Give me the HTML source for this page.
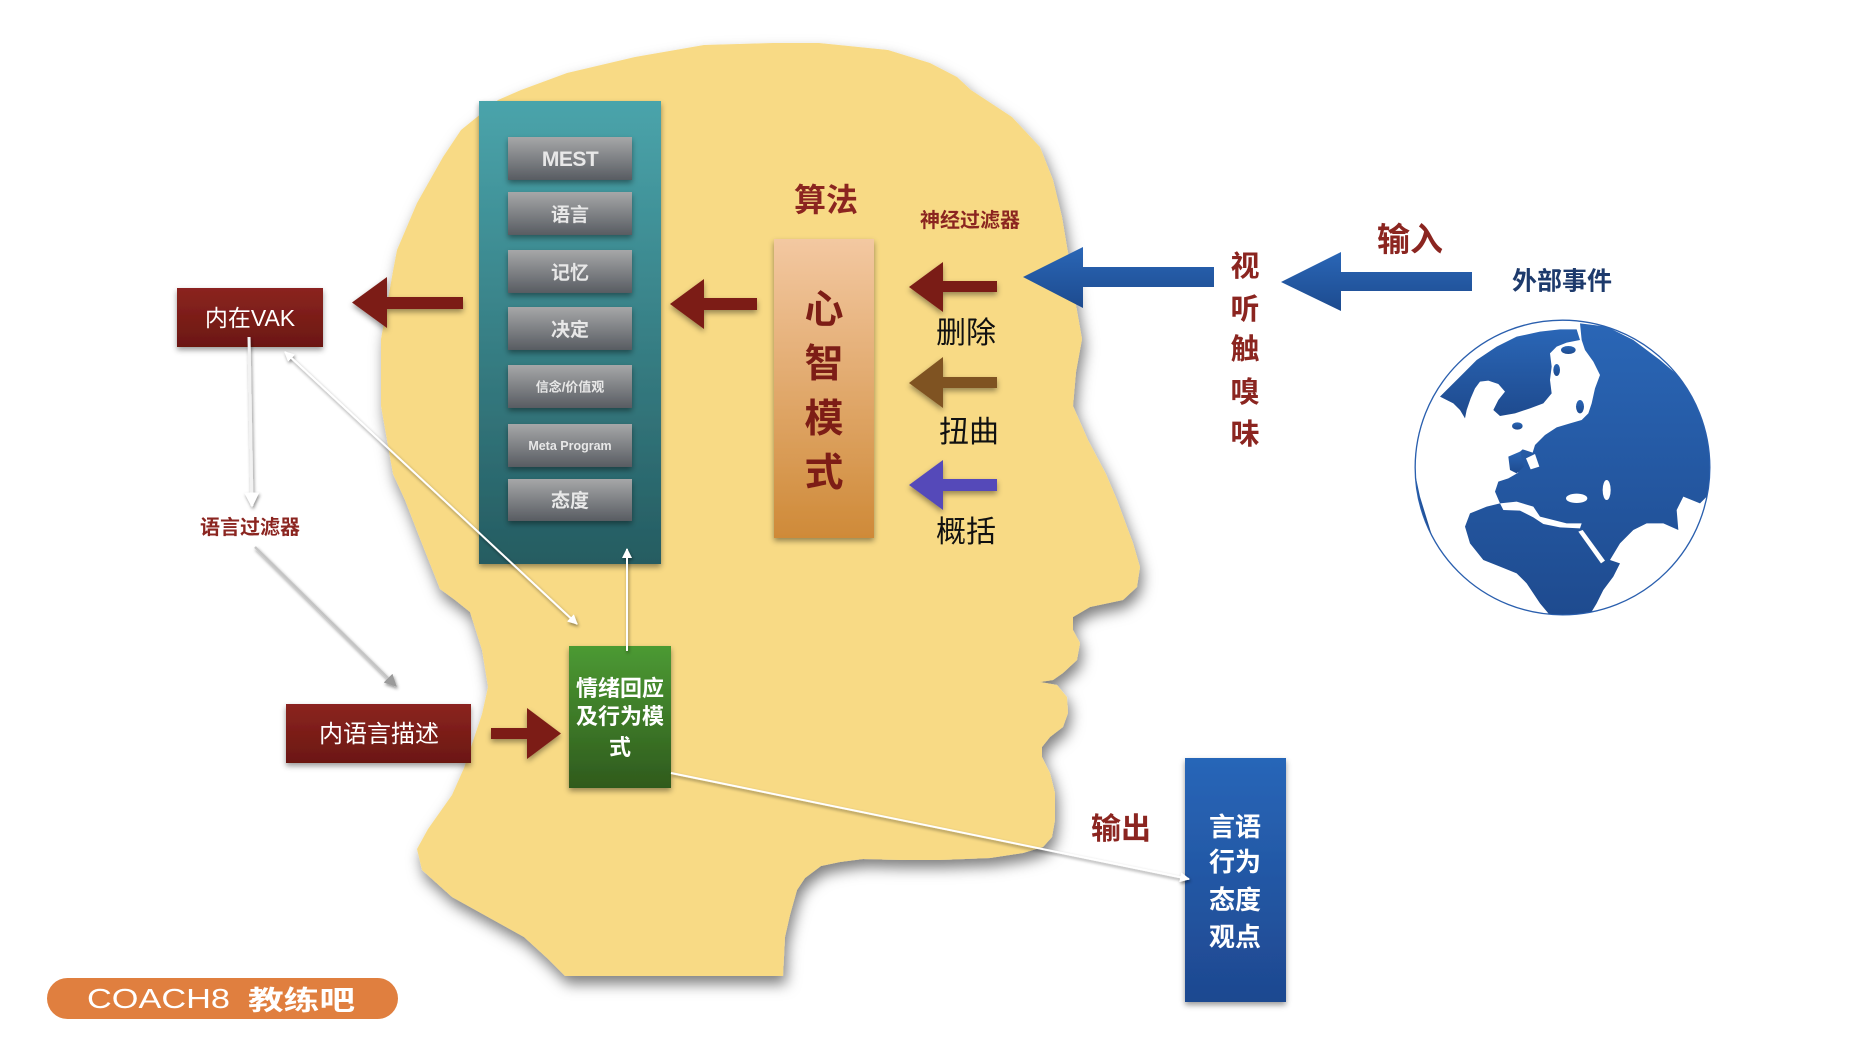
<!DOCTYPE html>
<html><head><meta charset="utf-8"><style>
html,body{margin:0;padding:0;background:#fff;}
svg{display:block;}
text{font-family:"Liberation Sans","Noto Sans CJK SC",sans-serif;}
</style></head><body>
<svg width="1866" height="1062" viewBox="0 0 1866 1062" xmlns="http://www.w3.org/2000/svg">
<defs>
<filter id="hs" x="-20%" y="-20%" width="140%" height="140%"><feDropShadow dx="3" dy="8" stdDeviation="7" flood-color="#000" flood-opacity="0.5"/></filter>
<filter id="bs" x="-20%" y="-20%" width="140%" height="140%"><feDropShadow dx="0" dy="3" stdDeviation="3" flood-color="#000" flood-opacity="0.4"/></filter>
<filter id="ls" x="-20%" y="-20%" width="140%" height="140%"><feDropShadow dx="1" dy="2" stdDeviation="1.5" flood-color="#000" flood-opacity="0.45"/></filter>
<linearGradient id="gTeal" x1="0" y1="0" x2="0" y2="1"><stop offset="0" stop-color="#4aa4ab"/><stop offset="1" stop-color="#255c61"/></linearGradient>
<linearGradient id="gBtn" x1="0" y1="0" x2="0" y2="1"><stop offset="0" stop-color="#a6a7a8"/><stop offset="1" stop-color="#585c62"/></linearGradient>
<linearGradient id="gRed" x1="0" y1="0" x2="0" y2="1"><stop offset="0" stop-color="#8b2420"/><stop offset="1" stop-color="#6b1711"/></linearGradient>
<linearGradient id="gMind" x1="0" y1="0" x2="0" y2="1"><stop offset="0" stop-color="#f3c8a1"/><stop offset="1" stop-color="#cf8a38"/></linearGradient>
<linearGradient id="gGreen" x1="0" y1="0" x2="0" y2="1"><stop offset="0" stop-color="#4c9a33"/><stop offset="1" stop-color="#2f5a1d"/></linearGradient>
<linearGradient id="gBlue" x1="0" y1="0" x2="0" y2="1"><stop offset="0" stop-color="#2866b8"/><stop offset="1" stop-color="#1e4890"/></linearGradient>
<linearGradient id="gArrowB" x1="0" y1="0" x2="0" y2="1"><stop offset="0" stop-color="#2a66b6"/><stop offset="1" stop-color="#1d4b8f"/></linearGradient>
<linearGradient id="gGlobe" x1="0" y1="0" x2="0" y2="1"><stop offset="0" stop-color="#2a66b6"/><stop offset="1" stop-color="#1e4a8e"/></linearGradient>
<clipPath id="gc"><circle cx="487.5" cy="472.5" r="441"/></clipPath>
<marker id="aw" viewBox="0 0 10 10" refX="9" refY="5" markerWidth="5" markerHeight="5" orient="auto-start-reverse"><path d="M0,0 L10,5 L0,10 z" fill="#ffffff"/></marker>
<marker id="ag" viewBox="0 0 10 10" refX="9" refY="5" markerWidth="5" markerHeight="5" orient="auto-start-reverse"><path d="M0,0 L10,5 L0,10 z" fill="#9a9a9a"/></marker>
</defs>

<rect x="0" y="0" width="1866" height="1062" fill="#ffffff"/>

<!-- Head -->
<polygon filter="url(#hs)" fill="#f8da85" points="704,45 773,43 819,43 888,50 930,63 957,77 971,90 1012,117 1040,147 1053,180 1062,217 1067,247 1073,280 1076,305 1082,339 1076,372 1073,406 1088,440 1106,474 1117,500 1133,543 1140,567 1137,587 1123,600 1090,607 1073,617 1073,630 1080,643 1077,660 1063,673 1053,680 1040,682 1057,685 1067,697 1068,713 1063,727 1050,737 1042,747 1042,757 1050,773 1055,793 1055,820 1052,837 1043,847 1023,853 990,858 940,860 900,860 863,859 840,862 821,866 805,878 797,890 790,915 785,937 783,976 565,976 547,958 524,937 488,917 452,897 422,870 417,849 428,829 452,795 464,768 473,741 482,714 488,687 482,650 470,612 455,600 440,589 417,531 405,500 393,474 381,406 381,339 393,271 397,250 417,203 443,157 461,130 498,100 521,90 567,73 635,57"/>

<!-- Teal column -->
<rect x="479" y="101" width="182" height="463" fill="url(#gTeal)" filter="url(#bs)"/>
<g filter="url(#bs)">
<rect x="508" y="137" width="124" height="43" fill="url(#gBtn)"/>
<rect x="508" y="192" width="124" height="43" fill="url(#gBtn)"/>
<rect x="508" y="250" width="124" height="43" fill="url(#gBtn)"/>
<rect x="508" y="307" width="124" height="43" fill="url(#gBtn)"/>
<rect x="508" y="365" width="124" height="43" fill="url(#gBtn)"/>
<rect x="508" y="424" width="124" height="43" fill="url(#gBtn)"/>
<rect x="508" y="479" width="124" height="42" fill="url(#gBtn)"/>
</g>
<g fill="#e8e8e8" font-weight="bold" text-anchor="middle">
<text x="570" y="166" font-size="21" letter-spacing="-0.5">MEST</text>
<text x="570" y="221" font-size="19">语言</text>
<text x="570" y="279" font-size="19">记忆</text>
<text x="570" y="336" font-size="19">决定</text>
<text x="570" y="391.5" font-size="13">信念/价值观</text>
<text x="570" y="450" font-size="12.5">Meta Program</text>
<text x="570" y="507" font-size="19">态度</text>
</g>

<!-- Mind model box -->
<rect x="774" y="239" width="100" height="299" fill="url(#gMind)" filter="url(#bs)"/>
<g fill="#7d1d16" font-weight="bold" font-size="39" text-anchor="middle">
<text x="824" y="323">心</text>
<text x="824" y="377">智</text>
<text x="824" y="432">模</text>
<text x="824" y="486">式</text>
</g>

<!-- Boxes -->
<rect x="177" y="288" width="146" height="59" fill="url(#gRed)" filter="url(#bs)"/>
<text x="250" y="326" font-size="23" fill="#fff" text-anchor="middle">内在VAK</text>
<rect x="286" y="704" width="185" height="59" fill="url(#gRed)" filter="url(#bs)"/>
<text x="379" y="742" font-size="24" fill="#fff" text-anchor="middle">内语言描述</text>
<rect x="569" y="646" width="102" height="142" fill="url(#gGreen)" filter="url(#bs)"/>
<g fill="#fff" font-weight="bold" font-size="22" text-anchor="middle">
<text x="620" y="696">情绪回应</text>
<text x="620" y="724">及行为模</text>
<text x="620" y="755">式</text>
</g>
<rect x="1185" y="758" width="101" height="244" fill="url(#gBlue)" filter="url(#bs)"/>
<g fill="#fff" font-weight="bold" font-size="26" text-anchor="middle">
<text x="1235" y="836">言语</text>
<text x="1235" y="871">行为</text>
<text x="1235" y="909">态度</text>
<text x="1235" y="946">观点</text>
</g>

<!-- Arrows -->
<g filter="url(#bs)">
<polygon fill="#7b1c17" points="352,302.5 387,277 387,297 463,297 463,309 387,309 387,328"/>
<polygon fill="#7b1c17" points="670,304 704,279 704,298 757,298 757,310 704,310 704,329"/>
<polygon fill="#7a1d18" points="909,287 943,262 943,281 997,281 997,292 943,292 943,312"/>
<polygon fill="#7f5222" points="909,383 943,357 943,377 997,377 997,388 943,388 943,408"/>
<polygon fill="#554ab9" points="909,485 943,460 943,479 997,479 997,491 943,491 943,510"/>
<polygon fill="#7b1c17" points="561,733.5 527,708 527,728 491,728 491,739 527,739 527,759"/>
</g>
<polygon fill="url(#gArrowB)" points="1023,277 1083,247 1083,267 1214,267 1214,287 1083,287 1083,308"/>
<polygon fill="url(#gArrowB)" points="1281,282 1341,252 1341,272 1472,272 1472,291 1341,291 1341,311"/>

<!-- Connector lines -->
<g filter="url(#ls)" fill="none">
<line x1="249" y1="337" x2="252" y2="506" stroke="#f2f2f2" stroke-width="3" marker-end="url(#aw)"/>
<line x1="285" y1="352" x2="577" y2="624" stroke="#ffffff" stroke-width="2" marker-start="url(#aw)" marker-end="url(#aw)"/>
<line x1="255" y1="547" x2="396" y2="686" stroke="#c4c4c4" stroke-width="2.5" marker-end="url(#ag)"/>
<line x1="627" y1="651" x2="627" y2="549" stroke="#ffffff" stroke-width="2" marker-end="url(#aw)"/>
<line x1="671" y1="773" x2="1189" y2="879" stroke="#ffffff" stroke-width="2" marker-end="url(#aw)"/>
</g>

<!-- Labels -->
<g fill="#8b2520" font-weight="bold" text-anchor="middle">
<text x="826" y="211" font-size="32">算法</text>
<text x="970" y="227" font-size="20">神经过滤器</text>
<text x="250" y="534" font-size="20">语言过滤器</text>
<text x="1410" y="251" font-size="33">输入</text>
<text x="1121" y="839" font-size="30">输出</text>
<text x="1245" y="276" font-size="29">视</text>
<text x="1245" y="319" font-size="29">听</text>
<text x="1245" y="359" font-size="29">触</text>
<text x="1245" y="402" font-size="29">嗅</text>
<text x="1245" y="444" font-size="29">味</text>
</g>
<g fill="#111" font-size="30" text-anchor="middle">
<text x="966" y="343">删除</text>
<text x="969" y="442">扭曲</text>
<text x="966" y="542">概括</text>
</g>
<text x="1562" y="289.5" font-size="25" font-weight="bold" fill="#1d3a6c" text-anchor="middle">外部事件</text>

<!-- Globe -->
<g transform="translate(1400 310) scale(0.33333)">
<circle cx="487.5" cy="472.5" r="442" fill="#ffffff" stroke="#2a5fae" stroke-width="4"/>
<g clip-path="url(#gc)" fill="url(#gGlobe)">
<path d="M120,260 L175,205 L230,150 L290,110 L350,80 L420,65 L480,58 L530,58 L540,90 L500,98 L470,110 L450,130 L455,170 L450,210 L455,250 L430,280 L390,295 L345,310 L300,318 L280,300 L295,270 L315,245 L295,222 L265,212 L240,215 L225,235 L212,265 L200,300 L195,325 L180,300 L160,280 Z"/>
<path d="M540,40 L620,50 L700,90 L780,150 L850,210 L920,300 L960,390 L960,470 L940,540 L900,580 L850,560 L830,600 L835,660 L790,640 L740,640 L700,660 L660,700 L630,750 L660,760 L640,800 L610,840 L590,880 L560,930 L470,940 L420,880 L380,820 L350,790 L300,770 L250,750 L210,700 L195,650 L210,610 L260,590 L300,580 L285,545 L295,515 L325,505 L355,488 L335,470 L345,438 L368,418 L398,428 L405,405 L435,375 L470,352 L510,340 L545,330 L565,310 L575,280 L585,235 L600,195 L580,155 L555,120 L545,90 Z"/>
<path d="M30,420 L60,560 L100,690 L80,690 L40,560 Z"/>
<ellipse cx="352" cy="348" rx="16" ry="11"/>
<ellipse cx="505" cy="120" rx="22" ry="12"/>
<ellipse cx="470" cy="180" rx="10" ry="18"/>
<ellipse cx="540" cy="290" rx="12" ry="20"/>
<path d="M325,440 L360,425 L372,470 L350,490 L330,480 Z"/>
</g>
<g fill="#ffffff">
<path d="M300,580 L350,575 L400,590 L420,620 L460,630 L500,640 L545,640 L540,655 L480,652 L430,642 L400,622 L360,602 L310,600 Z"/>
<ellipse cx="530" cy="565" rx="32" ry="14"/>
<ellipse cx="620" cy="540" rx="12" ry="30"/>
<path d="M535,665 L548,660 L615,752 L603,760 Z"/>
<path d="M378,445 L405,432 L418,470 L392,478 Z"/>
</g>
</g>

<!-- Logo -->
<rect x="47" y="978" width="351" height="41" rx="20.5" fill="#e07f3f"/>
<text x="87" y="1008" font-size="28" fill="#fff" textLength="143" lengthAdjust="spacingAndGlyphs">COACH8</text>
<text x="248" y="1010" font-size="27" fill="#fff" font-weight="bold" textLength="107" lengthAdjust="spacingAndGlyphs">教练吧</text>
</svg>
</body></html>
